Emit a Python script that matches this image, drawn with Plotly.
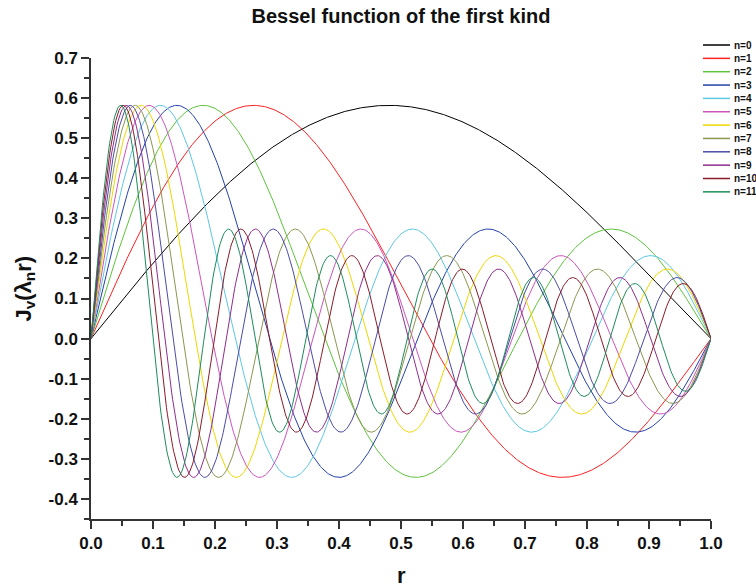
import numpy as np
import plotly.graph_objects as go

# ---- data ----
orders_n = list(range(12))
# zeros of J1 used as lambda_n (J1(lambda_n * 1) = 0 at r = 1)
lambda_n = [3.8317, 7.0156, 10.1735, 13.3237, 16.4706, 19.6159,
            22.7601, 25.9037, 29.0468, 32.1897, 35.3323, 38.4748]
series_names = [f"n={n}" for n in orders_n]
series_colors = ["#000000", "#FF2020", "#5EC43C", "#2442A8", "#5CC8E2", "#CC55BB",
                 "#EED700", "#8C9650", "#4B4BA8", "#8E2E8E", "#8B1A2A", "#1E8C5A"]
x_tickvals = [0.0, 0.1, 0.2, 0.3, 0.4, 0.5, 0.6, 0.7, 0.8, 0.9, 1.0]
x_ticktext = ["0.0", "0.1", "0.2", "0.3", "0.4", "0.5", "0.6", "0.7", "0.8", "0.9", "1.0"]
y_tickvals = [0.7, 0.6, 0.5, 0.4, 0.3, 0.2, 0.1, 0.0, -0.1, -0.2, -0.3, -0.4]
y_ticktext = ["0.7", "0.6", "0.5", "0.4", "0.3", "0.2", "0.1", "0.0", "-0.1", "-0.2", "-0.3", "-0.4"]

r = np.linspace(0.0, 1.0, 601)


def bessel_j1(x):
    try:
        from scipy.special import j1
        return j1(x)
    except Exception:
        tau = np.linspace(0.0, np.pi, 4001)
        vals = np.cos(tau[None, :] - np.asarray(x)[:, None] * np.sin(tau[None, :]))
        return np.trapezoid(vals, tau, axis=1) / np.pi


FONT = "Liberation Sans, Arial, Helvetica, sans-serif"
AX = "#333333"

fig = go.Figure()
for name, lam, col in zip(series_names, lambda_n, series_colors):
    fig.add_trace(go.Scatter(x=r, y=bessel_j1(lam * r), mode="lines", name=name,
                             line=dict(color=col, width=1), showlegend=False))

# manual legend (compact spacing)
plot_l, plot_r, plot_t, plot_b = 91, 711, 58, 519
pw, ph = plot_r - plot_l, plot_b - plot_t
for k, (name, col) in enumerate(zip(series_names, series_colors)):
    py = 45 + 13.35 * k
    yp = (plot_b - py) / ph
    fig.add_shape(type="line", xref="paper", yref="paper",
                  x0=(703 - plot_l) / pw, x1=(730 - plot_l) / pw, y0=yp, y1=yp,
                  line=dict(color=col, width=1.5))
    fig.add_annotation(xref="paper", yref="paper", x=(732 - plot_l) / pw, y=yp,
                       xanchor="left", yanchor="middle", text=name, showarrow=False,
                       font=dict(family=FONT, size=10, color="#111111", weight="bold"))

fig.add_annotation(xref="paper", yref="paper", x=(24 - plot_l) / pw, y=0.5,
                   text="J<sub>v</sub>(λ<sub>n</sub>r)", textangle=-90, showarrow=False,
                   xanchor="center", yanchor="middle",
                   font=dict(family=FONT, size=22, color="#111111", weight="bold"))
fig.add_annotation(xref="paper", yref="paper", x=0.5, y=(plot_b - 575) / ph,
                   text="r", showarrow=False, xanchor="center", yanchor="middle",
                   font=dict(family=FONT, size=22, color="#111111", weight="bold"))

axis_common = dict(showgrid=False, zeroline=False, showline=True, linecolor=AX, linewidth=1.5,
                   ticks="outside", ticklen=8, tickwidth=1.5, tickcolor=AX, mirror=False,
                   tickfont=dict(family=FONT, size=17, color="#111111", weight="bold"))

fig.update_layout(
    width=756, height=588,
    margin=dict(l=plot_l, r=756 - plot_r, t=plot_t, b=588 - plot_b),
    plot_bgcolor="white", paper_bgcolor="white",
    title=dict(text="Bessel function of the first kind", x=0.5, xref="paper",
               y=1 - 16 / 588, yref="container", xanchor="center", yanchor="middle",
               font=dict(family=FONT, size=20, color="#111111", weight="bold")),
    xaxis=dict(range=[0, 1], tickmode="array", tickvals=x_tickvals, ticktext=x_ticktext,
               minor=dict(tickmode="linear", tick0=0, dtick=0.05, ticks="outside",
                          ticklen=5, tickwidth=1.5, tickcolor=AX),
               **axis_common),
    yaxis=dict(range=[-0.45, 0.7], tickmode="array", tickvals=y_tickvals, ticktext=y_ticktext,
               minor=dict(tickmode="linear", tick0=0, dtick=0.05, ticks="outside",
                          ticklen=5, tickwidth=1.5, tickcolor=AX),
               **axis_common),
)

fig.write_html("out.html")
